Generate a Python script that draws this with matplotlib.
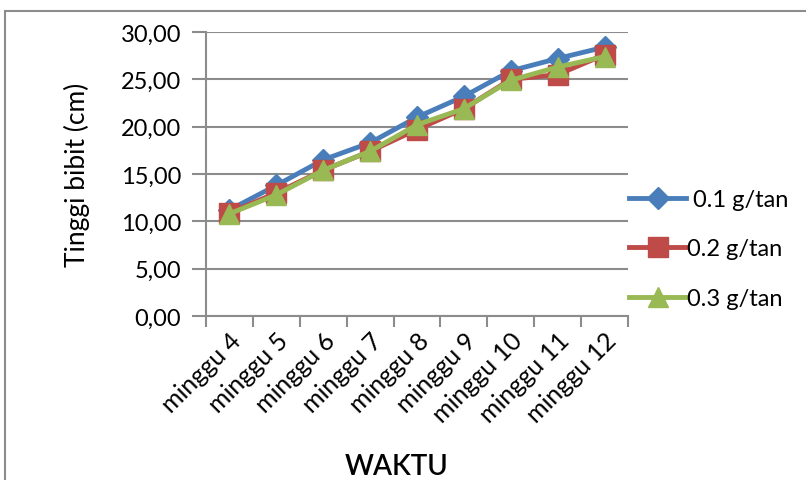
import matplotlib
matplotlib.use('Agg')
from matplotlib import pyplot as plt
from matplotlib.patches import Rectangle

weeks = ["minggu 4", "minggu 5", "minggu 6", "minggu 7", "minggu 8",
         "minggu 9", "minggu 10", "minggu 11", "minggu 12"]
dose_01 = [11.2, 13.8, 16.5, 18.3, 21.0, 23.2, 25.9, 27.2, 28.4]
dose_02 = [10.9, 13.0, 15.4, 17.4, 19.7, 21.9, 25.0, 25.5, 27.6]
dose_03 = [10.8, 12.8, 15.4, 17.4, 20.2, 21.9, 24.9, 26.3, 27.4]
labels = [" 0.1 g/tan", "0.2 g/tan", "0.3 g/tan"]

plt.rcParams['font.family'] = ['Lato', 'DejaVu Sans']

fig = plt.figure(figsize=(8.06, 4.81), dpi=100)
W, H = 806, 481
ax = fig.add_axes([206 / W, 1 - 317 / H, (628 - 206) / W, (317 - 33) / H])

# outer chart border
fig.patches.append(Rectangle((5 / W, -0.1), 1.2, 1 - 12 / H + 0.1,
                             transform=fig.transFigure, fill=False,
                             edgecolor='#8c8c8c', linewidth=1.5))

x = range(len(weeks))
ax.plot(x, dose_01, color='#4A7EBB', lw=3.5, marker='D', ms=11, label=labels[0])
ax.plot(x, dose_02, color='#BE4B48', lw=3.5, marker='s', ms=14, label=labels[1])
ax.plot(x, dose_03, color='#98B954', lw=3.5, marker='^', ms=15, label=labels[2])

ax.set_xlim(-0.5, len(weeks) - 0.5)
ax.set_ylim(0, 30)
ax.set_yticks(range(0, 31, 5))
ax.set_yticklabels([("%.2f" % v).replace(".", ",") for v in range(0, 31, 5)])
ax.yaxis.grid(True, color='#8c8c8c', lw=1.5)
ax.set_axisbelow(True)

ax.set_xticks([i + 0.5 for i in range(-1, len(weeks))], minor=False)
ax.set_xticklabels([])
ax.set_xticks(list(x), minor=True)
ax.set_xticklabels(weeks, minor=True, rotation=45, ha='right',
                   rotation_mode='anchor', fontsize=18)
ax.tick_params(axis='x', which='minor', length=0, pad=9)
ax.tick_params(axis='x', which='major', length=8, width=1.5, color='#8c8c8c')
ax.tick_params(axis='y', length=10, width=1.5, color='#8c8c8c', labelsize=17, pad=8)

for s in ['top', 'right']:
    ax.spines[s].set_visible(False)
for s in ['left', 'bottom']:
    ax.spines[s].set_color('#8c8c8c')
    ax.spines[s].set_linewidth(1.5)

ax.set_ylabel("Tinggi bibit (cm)", fontsize=19, labelpad=22)
fig.text(397 / W, 1 - 467 / H, "WAKTU", fontsize=20, fontweight='semibold',
         ha='center', va='center')

ax.legend(loc='center left', bbox_to_anchor=(0.975, 0.236), frameon=False,
          fontsize=17, handlelength=2.4, handletextpad=0.05, labelspacing=1.2,
          borderpad=0)

plt.savefig("out.png", dpi=100)
